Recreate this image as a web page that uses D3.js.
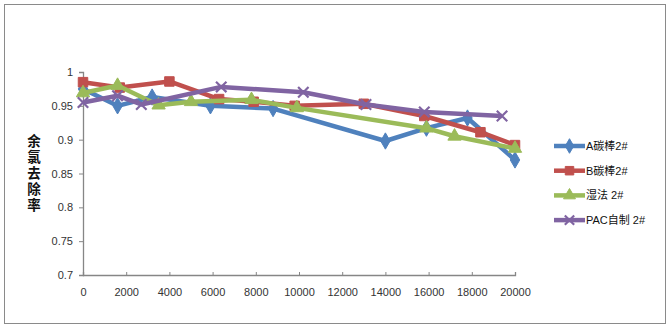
<!DOCTYPE html>
<html>
<head>
<meta charset="utf-8">
<script src="https://cdn.jsdelivr.net/npm/d3@7"></script>
<style>
  html, body { margin: 0; padding: 0; background: #fff; }
  svg { display: block; font-family: "Liberation Sans", "DejaVu Sans", sans-serif; }
</style>
</head>
<body>
<svg id="chart" width="669" height="329"></svg>
<script>
// Residual chlorine removal rate vs. treated volume, four filter media
const seriesNames = ["A碳棒2#", "B碳棒2#", "湿法 2#", "PAC自制 2#"];
const seriesColors = ["#4F81BD", "#C0504D", "#9BBB59", "#8064A2"];
const seriesMarkers = ["diamond", "square", "triangle", "cross"];

const xA = [0, 1600, 3200, 5900, 8800, 14000, 15900, 17800, 20000];
const yA = [0.975, 0.950, 0.963, 0.950, 0.946, 0.898, 0.917, 0.932, 0.870];

const xB = [0, 1700, 4000, 6300, 7900, 9800, 13000, 15800, 18400, 20000];
const yB = [0.985, 0.977, 0.986, 0.960, 0.956, 0.950, 0.953, 0.935, 0.911, 0.892];

const xC = [0, 1600, 3500, 5000, 7800, 9900, 15900, 17200, 20000];
const yC = [0.969, 0.980, 0.951, 0.956, 0.959, 0.947, 0.917, 0.905, 0.887];

const xD = [0, 1600, 2700, 6400, 10200, 13100, 15800, 19400];
const yD = [0.955, 0.965, 0.952, 0.978, 0.970, 0.952, 0.941, 0.935];

const xTicks = [0, 2000, 4000, 6000, 8000, 10000, 12000, 14000, 16000, 18000, 20000];
const yTicks = [0.7, 0.75, 0.8, 0.85, 0.9, 0.95, 1];
const yTitle = "余氯去除率";

const seriesX = [xA, xB, xC, xD];
const seriesY = [yA, yB, yC, yD];

const svg = d3.select("#chart");

// outer frame
svg.append("rect")
  .attr("x", 4.5).attr("y", 4.5)
  .attr("width", 661).attr("height", 319)
  .attr("fill", "#fff").attr("stroke", "#8a8a8a").attr("stroke-width", 1);

const x = d3.scaleLinear().domain([0, 20000]).range([83, 515]);
const y = d3.scaleLinear().domain([0.7, 1]).range([275, 72]);

// y axis
const yAxis = d3.axisLeft(y).tickValues(yTicks).tickFormat(d3.format("~g")).tickSize(4).tickPadding(6);
const gy = svg.append("g").attr("transform", "translate(83,0)").call(yAxis);
gy.select(".domain").attr("stroke", "#868686").attr("stroke-width", 1.3);
gy.selectAll(".tick line").attr("stroke", "#868686");
gy.selectAll(".tick text").attr("fill", "#333").style("font-size", "11px");

// x axis
const xAxis = d3.axisBottom(x).tickValues(xTicks).tickFormat(d3.format("d")).tickSize(-3).tickPadding(13);
const gx = svg.append("g").attr("transform", "translate(0,275)").call(xAxis);
gx.select(".domain").attr("stroke", "#868686").attr("stroke-width", 1.3);
gx.selectAll(".tick line").attr("stroke", "#868686");
gx.selectAll(".tick text").attr("fill", "#333").style("font-size", "11px");

// vertical axis title, set in upright vertical writing mode
svg.append("text")
  .attr("x", 34).attr("y", 134)
  .attr("fill", "#111")
  .style("writing-mode", "vertical-rl")
  .style("text-orientation", "upright")
  .style("letter-spacing", "2.5px")
  .style("font-family", "'Noto Sans CJK SC', sans-serif")
  .style("font-weight", "bold")
  .style("font-size", "13.5px")
  .text(yTitle);

// marker shapes
function markerPath(type, s) {
  switch (type) {
    case "diamond": return d3.symbol(d3.symbolDiamond, s * s * 0.85)();
    case "square": return d3.symbol(d3.symbolSquare, s * s * 1.0)();
    case "triangle": return d3.symbol(d3.symbolTriangle, s * s * 0.85)();
    default: {
      const h = s * 0.55;
      return `M${-h},${-h}L${h},${h}M${-h},${h}L${h},${-h}`;
    }
  }
}
function drawMarker(g, type, color, cx, cy, s) {
  const p = g.append("path")
    .attr("transform", `translate(${cx},${cy})`)
    .attr("d", markerPath(type, s));
  if (type === "cross") {
    p.attr("fill", "none").attr("stroke", color).attr("stroke-width", 2.2);
  } else {
    p.attr("fill", color).attr("stroke", color).attr("stroke-width", 1);
  }
}

const line = d3.line().x(d => x(d[0])).y(d => y(d[1]));

seriesNames.forEach((name, i) => {
  const pts = seriesX[i].map((v, j) => [v, seriesY[i][j]]);
  const g = svg.append("g");
  g.append("path").datum(pts)
    .attr("d", line)
    .attr("fill", "none")
    .attr("stroke", seriesColors[i])
    .attr("stroke-width", 4.5)
    .attr("stroke-linejoin", "round");
  pts.forEach(p => drawMarker(g, seriesMarkers[i], seriesColors[i], x(p[0]), y(p[1]), 9.5));
});

// legend
const legend = svg.append("g");
seriesNames.forEach((name, i) => {
  const ly = 146 + i * 24.7;
  legend.append("line")
    .attr("x1", 554).attr("x2", 585).attr("y1", ly).attr("y2", ly)
    .attr("stroke", seriesColors[i]).attr("stroke-width", 4.5);
  drawMarker(legend, seriesMarkers[i], seriesColors[i], 569.5, ly, 8.5);
  legend.append("text")
    .attr("x", 586).attr("y", ly + 4)
    .attr("fill", "#111")
    .style("font-family", "'Liberation Sans', 'Noto Sans CJK SC', sans-serif")
    .style("font-size", "11px")
    .text(name);
});
</script>
</body>
</html>
